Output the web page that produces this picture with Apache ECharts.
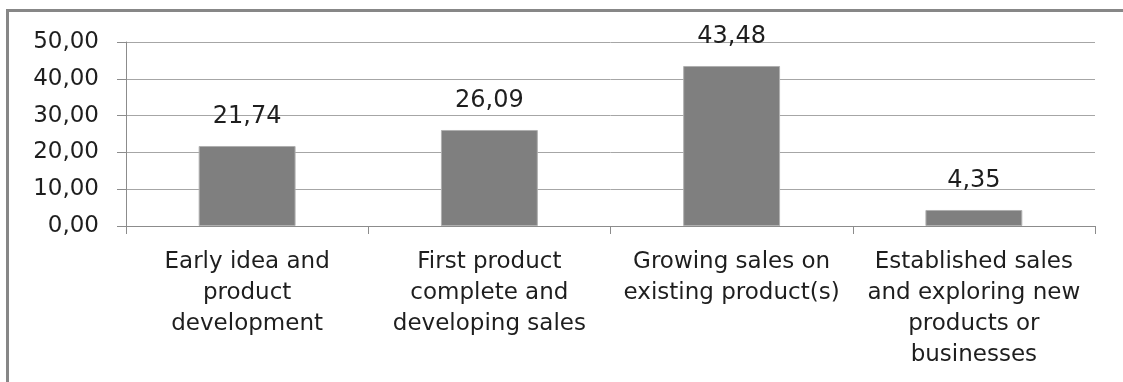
<!DOCTYPE html>
<html>
<head>
<meta charset="utf-8">
<script src="https://cdn.jsdelivr.net/npm/echarts@6/dist/echarts.min.js"></script>
<style>
  html, body { margin: 0; padding: 0; background: #ffffff; }
  #chart { width: 1123px; height: 382px; }
</style>
</head>
<body>
<div id="chart"></div>
<script>
// Stage of the business (share of respondents, %)
const categories = [
  'Early idea and\nproduct\ndevelopment',
  'First product\ncomplete and\ndeveloping sales',
  'Growing sales on\nexisting product(s)',
  'Established sales\nand exploring new\nproducts or\nbusinesses'
];
const shares = [21.74, 26.09, 43.48, 4.35];
const yTicks = { min: 0, max: 50, interval: 10 };

const FONT = 'DejaVu Sans';
const fmt = v => Number(v).toFixed(2).replace('.', ',');

const chart = echarts.init(document.getElementById('chart'), null, { renderer: 'canvas' });
chart.setOption({
  animation: false,
  backgroundColor: '#ffffff',
  graphic: [{
    type: 'rect',
    shape: { x: 7.5, y: 10.5, width: 1300, height: 600 },
    style: { fill: 'none', stroke: '#878787', lineWidth: 3 },
    silent: true
  }],
  grid: { left: 126, right: 28, top: 42, bottom: 156, containLabel: false },
  xAxis: {
    type: 'category',
    data: categories,
    axisLine: { show: true, lineStyle: { color: '#8c8c8c', width: 1 } },
    axisTick: { show: true, length: 8, alignWithLabel: false, lineStyle: { color: '#8c8c8c' } },
    axisLabel: {
      interval: 0, margin: 21, color: '#1e1e1e',
      fontFamily: FONT, fontSize: 23, lineHeight: 31, align: 'center'
    },
    splitLine: { show: false }
  },
  yAxis: {
    type: 'value',
    min: yTicks.min, max: yTicks.max, interval: yTicks.interval,
    axisLine: { show: true, lineStyle: { color: '#8c8c8c', width: 1 } },
    axisTick: { show: true, length: 9, lineStyle: { color: '#8c8c8c' } },
    axisLabel: {
      margin: 27, color: '#1e1e1e', fontFamily: FONT, fontSize: 23,
      formatter: fmt
    },
    splitLine: { show: true, lineStyle: { color: '#a6a6a6', width: 1 } }
  },
  series: [{
    type: 'bar',
    data: shares,
    barWidth: '40%',
    itemStyle: { color: '#7f7f7f', borderColor: '#b0b0b0', borderWidth: 1 },
    label: {
      show: true, position: 'top', distance: 17,
      color: '#1e1e1e', fontFamily: FONT, fontSize: 24,
      formatter: p => fmt(p.value)
    }
  }]
});
</script>
</body>
</html>
